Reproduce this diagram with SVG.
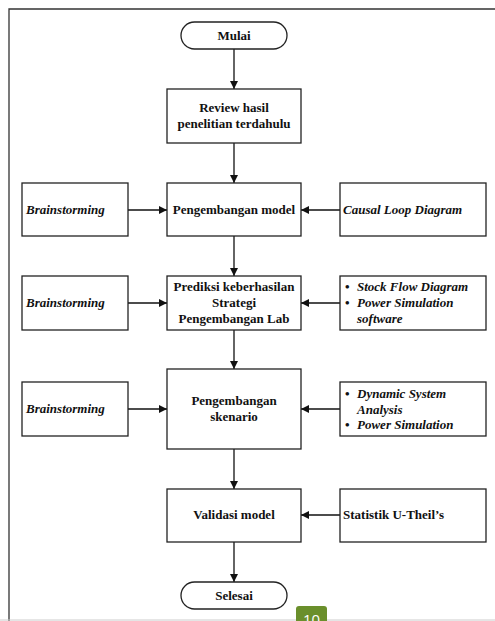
<svg xmlns="http://www.w3.org/2000/svg" width="495" height="621" viewBox="0 0 495 621">
<defs>
<style>
.box{fill:#fff;stroke:#222;stroke-width:1.3}
.t{font-family:"Liberation Serif","Times New Roman",serif;font-size:13px;font-weight:bold;fill:#111}
.c{text-anchor:middle}
.i{font-style:italic}
.ln{stroke:#111;stroke-width:1.3;fill:none}
</style>
<marker id="ah" viewBox="0 0 10 10" refX="10" refY="5" markerWidth="10" markerHeight="8" markerUnits="userSpaceOnUse" orient="auto">
<path d="M0,0 L10,5 L0,10 Z" fill="#111"/>
</marker>
</defs>
<rect width="495" height="621" fill="#fff"/>
<path d="M9,621 V9 H495" stroke="#333" stroke-width="1.3" fill="none"/>
<line x1="0" y1="620" x2="495" y2="620" stroke="#ccc" stroke-width="1"/>

<g id="connectors">
<line class="ln" x1="234" y1="49" x2="234" y2="89" marker-end="url(#ah)"/>
<line class="ln" x1="234" y1="143" x2="234" y2="183" marker-end="url(#ah)"/>
<line class="ln" x1="128" y1="210" x2="167" y2="210" marker-end="url(#ah)"/>
<line class="ln" x1="340" y1="210" x2="301" y2="210" marker-end="url(#ah)"/>
<line class="ln" x1="234" y1="236" x2="234" y2="276" marker-end="url(#ah)"/>
<line class="ln" x1="128" y1="303" x2="167" y2="303" marker-end="url(#ah)"/>
<line class="ln" x1="340" y1="303" x2="301" y2="303" marker-end="url(#ah)"/>
<line class="ln" x1="234" y1="330" x2="234" y2="369" marker-end="url(#ah)"/>
<line class="ln" x1="128" y1="409" x2="167" y2="409" marker-end="url(#ah)"/>
<line class="ln" x1="340" y1="409" x2="301" y2="409" marker-end="url(#ah)"/>
<line class="ln" x1="234" y1="449" x2="234" y2="489" marker-end="url(#ah)"/>
<line class="ln" x1="340" y1="515" x2="301" y2="515" marker-end="url(#ah)"/>
<line class="ln" x1="234" y1="542" x2="234" y2="582" marker-end="url(#ah)"/>
</g>

<g id="mulai">
<rect class="box" x="181" y="22" width="106" height="27" rx="13.5"/>
<text class="t c" x="234" y="40">Mulai</text>
</g>
<g id="review">
<rect class="box" x="167" y="89" width="134" height="54"/>
<text class="t c" x="234" y="112">Review hasil</text>
<text class="t c" x="234" y="128">penelitian terdahulu</text>
</g>
<g id="brain1">
<rect class="box" x="22" y="183" width="106" height="53"/>
<text class="t i" x="26" y="214">Brainstorming</text>
</g>
<g id="pengembangan-model">
<rect class="box" x="167" y="183" width="134" height="53"/>
<text class="t c" x="234" y="214">Pengembangan model</text>
</g>
<g id="cld">
<rect class="box" x="340" y="183" width="146" height="53"/>
<text class="t i" x="343" y="214">Causal Loop Diagram</text>
</g>
<g id="brain2">
<rect class="box" x="22" y="276" width="106" height="54"/>
<text class="t i" x="26" y="307">Brainstorming</text>
</g>
<g id="prediksi">
<rect class="box" x="167" y="276" width="134" height="54"/>
<text class="t c" x="234" y="291">Prediksi keberhasilan</text>
<text class="t c" x="234" y="307">Strategi</text>
<text class="t c" x="234" y="323">Pengembangan Lab</text>
</g>
<g id="sfd">
<rect class="box" x="340" y="276" width="146" height="54"/>
<text class="t" x="345" y="291">•</text>
<text class="t i" x="357" y="291">Stock Flow Diagram</text>
<text class="t" x="345" y="307">•</text>
<text class="t i" x="357" y="307">Power Simulation</text>
<text class="t i" x="357" y="323">software</text>
</g>
<g id="brain3">
<rect class="box" x="22" y="382" width="106" height="54"/>
<text class="t i" x="26" y="413">Brainstorming</text>
</g>
<g id="skenario">
<rect class="box" x="167" y="369" width="134" height="80"/>
<text class="t c" x="234" y="405">Pengembangan</text>
<text class="t c" x="234" y="421">skenario</text>
</g>
<g id="dsa">
<rect class="box" x="340" y="382" width="146" height="54"/>
<text class="t" x="345" y="398">•</text>
<text class="t i" x="357" y="398">Dynamic System</text>
<text class="t i" x="357" y="414">Analysis</text>
<text class="t" x="345" y="429">•</text>
<text class="t i" x="357" y="429">Power Simulation</text>
</g>
<g id="validasi">
<rect class="box" x="167" y="489" width="134" height="53"/>
<text class="t c" x="234" y="519">Validasi model</text>
</g>
<g id="statistik">
<rect class="box" x="340" y="489" width="146" height="53"/>
<text class="t" x="343" y="519">Statistik U-Theil’s</text>
</g>
<g id="selesai">
<rect class="box" x="181" y="582" width="106" height="27" rx="13.5"/>
<text class="t c" x="234" y="600">Selesai</text>
</g>
<g id="page">
<path d="M296,621 V609 Q296,606 299,606 H324 Q327,606 327,609 V621 Z" fill="#6a8f2b"/>
<text x="311.5" y="625" text-anchor="middle" font-family="'Open Sans','Liberation Sans',sans-serif" font-size="15" fill="#fff">10</text>
</g>
</svg>
